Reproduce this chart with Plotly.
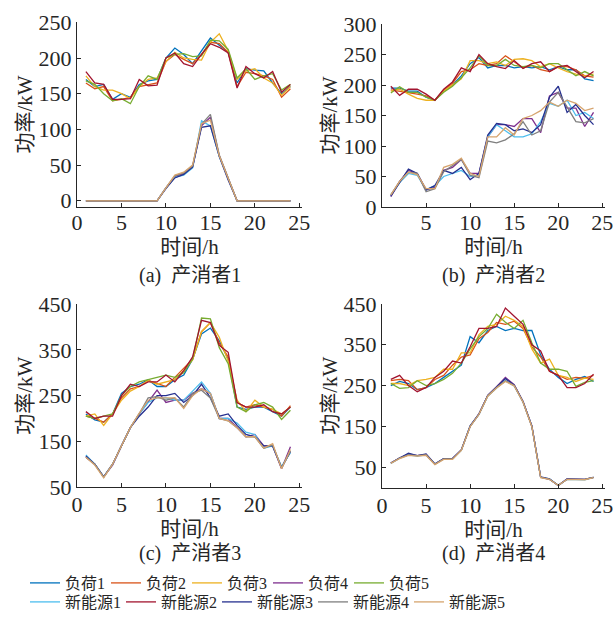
import plotly.graph_objects as go

hours = list(range(1, 25))

names = ["负荷1", "负荷2", "负荷3", "负荷4", "负荷5",
         "新能源1", "新能源2", "新能源3", "新能源4", "新能源5"]
colors = ["#0072BD", "#D95319", "#EDB120", "#7E2F8E", "#77AC30",
          "#4DBEEE", "#A2142F", "#26308F", "#7F7F7F", "#D6A46E"]

# ---- (a) 产消者1 ----
a_fh1 = [170, 160, 163, 142, 150, 145, 163, 168, 170, 200, 214, 205, 192, 210, 228, 218, 208, 165, 185, 183, 182, 165, 150, 160]
a_fh2 = [165, 157, 160, 140, 142, 145, 160, 163, 165, 195, 205, 198, 192, 205, 222, 220, 208, 160, 180, 178, 175, 170, 145, 157]
a_fh3 = [175, 160, 155, 155, 150, 143, 160, 170, 172, 195, 208, 200, 198, 197, 222, 234, 210, 170, 182, 185, 172, 165, 148, 160]
a_fh4 = [0, 0, 0, 0, 0, 0, 0, 0, 0, 18, 34, 38, 48, 105, 117, 63, 30, 0, 0, 0, 0, 0, 0, 0]
a_fh5 = [168, 163, 150, 140, 143, 136, 160, 175, 170, 200, 205, 206, 202, 203, 225, 224, 212, 172, 185, 170, 175, 178, 155, 163]
a_xn1 = [0, 0, 0, 0, 0, 0, 0, 0, 0, 18, 33, 36, 46, 112, 105, 62, 30, 0, 0, 0, 0, 0, 0, 0]
a_xn2 = [181, 165, 163, 142, 142, 143, 170, 161, 162, 200, 207, 192, 188, 205, 220, 215, 207, 158, 188, 178, 172, 181, 152, 163]
a_xn3 = [0, 0, 0, 0, 0, 0, 0, 0, 0, 17, 32, 37, 47, 103, 105, 62, 29, 0, 0, 0, 0, 0, 0, 0]
a_xn4 = [0, 0, 0, 0, 0, 0, 0, 0, 0, 18, 35, 39, 49, 107, 121, 64, 31, 0, 0, 0, 0, 0, 0, 0]
a_xn5 = [0, 0, 0, 0, 0, 0, 0, 0, 0, 18, 36, 40, 50, 108, 113, 63, 30, 0, 0, 0, 0, 0, 0, 0]

# ---- (b) 产消者2 ----
b_fh1 = [195, 195, 190, 190, 180, 175, 190, 200, 215, 235, 245, 228, 232, 232, 228, 230, 228, 230, 225, 230, 225, 225, 210, 207]
b_fh2 = [192, 190, 188, 185, 182, 175, 192, 203, 222, 225, 235, 232, 235, 248, 238, 228, 232, 225, 222, 230, 230, 225, 215, 213]
b_fh3 = [190, 193, 185, 178, 175, 175, 190, 200, 210, 240, 240, 235, 238, 232, 242, 243, 240, 230, 235, 228, 222, 218, 215, 218]
b_fh4 = [17, 42, 60, 55, 28, 32, 60, 65, 78, 55, 55, 115, 135, 135, 132, 145, 145, 122, 182, 188, 162, 162, 132, 155]
b_fh5 = [187, 197, 188, 188, 180, 175, 188, 198, 212, 228, 248, 232, 232, 242, 232, 230, 232, 228, 235, 235, 225, 215, 222, 215]
b_xn1 = [20, 40, 55, 52, 28, 35, 50, 55, 60, 50, 52, 115, 135, 125, 115, 115, 120, 140, 170, 165, 175, 150, 155, 145]
b_xn2 = [198, 183, 193, 193, 185, 175, 193, 205, 228, 222, 250, 235, 230, 227, 240, 227, 235, 238, 222, 230, 232, 222, 212, 222]
b_xn3 = [18, 40, 62, 55, 28, 35, 60, 55, 65, 45, 55, 118, 137, 135, 125, 128, 122, 135, 180, 198, 155, 168, 150, 135]
b_xn4 = [20, 42, 57, 55, 25, 30, 58, 68, 78, 52, 48, 108, 105, 110, 120, 140, 118, 125, 172, 188, 165, 140, 138, 145]
b_xn5 = [20, 42, 57, 53, 30, 30, 65, 70, 80, 55, 50, 115, 115, 130, 118, 145, 150, 158, 172, 165, 175, 170, 158, 162]

# ---- (c) 产消者3 ----
c_fh1 = [210, 197, 192, 210, 255, 270, 275, 285, 270, 270, 285, 295, 330, 385, 398, 370, 330, 225, 220, 225, 225, 215, 205, 225]
c_fh2 = [205, 200, 192, 210, 245, 265, 270, 283, 277, 270, 290, 310, 330, 390, 410, 365, 335, 235, 225, 230, 225, 220, 205, 228]
c_fh3 = [205, 210, 185, 210, 240, 260, 270, 283, 275, 280, 285, 305, 328, 390, 410, 378, 325, 240, 215, 240, 225, 220, 210, 225]
c_fh4 = [115, 100, 72, 98, 140, 180, 210, 235, 262, 235, 240, 240, 255, 265, 255, 200, 200, 180, 160, 165, 140, 140, 90, 138]
c_fh5 = [205, 200, 205, 210, 250, 270, 280, 285, 290, 295, 290, 300, 330, 420, 418, 355, 320, 225, 215, 230, 235, 225, 198, 218]
c_xn1 = [120, 100, 72, 100, 140, 180, 210, 235, 245, 245, 240, 240, 260, 280, 255, 200, 200, 190, 170, 165, 135, 140, 95, 125]
c_xn2 = [215, 200, 205, 205, 250, 275, 270, 280, 280, 295, 280, 305, 335, 415, 410, 360, 345, 235, 225, 225, 230, 215, 210, 225]
c_xn3 = [118, 100, 72, 100, 140, 180, 205, 225, 250, 250, 255, 235, 250, 275, 245, 205, 210, 185, 165, 160, 140, 140, 92, 128]
c_xn4 = [115, 100, 72, 100, 140, 180, 210, 245, 248, 240, 245, 225, 255, 262, 245, 200, 195, 180, 160, 160, 135, 142, 92, 128]
c_xn5 = [115, 98, 70, 100, 140, 180, 212, 240, 245, 245, 245, 222, 250, 265, 255, 200, 195, 180, 160, 160, 135, 145, 90, 132]

# ---- (d) 产消者4 ----
d_fh1 = [250, 260, 255, 240, 245, 255, 270, 285, 300, 370, 355, 385, 395, 385, 390, 385, 385, 325, 290, 270, 255, 265, 272, 260]
d_fh2 = [262, 265, 262, 240, 245, 265, 275, 300, 320, 325, 365, 380, 405, 400, 408, 390, 345, 320, 285, 275, 265, 270, 268, 275]
d_fh3 = [255, 255, 250, 262, 265, 270, 290, 290, 330, 330, 375, 395, 400, 420, 410, 395, 340, 305, 315, 275, 270, 260, 268, 265]
d_fh4 = [60, 73, 82, 78, 81, 57, 71, 71, 92, 150, 181, 226, 247, 270, 252, 211, 151, 25, 20, 5, 21, 21, 20, 25]
d_fh5 = [255, 243, 245, 262, 250, 255, 265, 280, 305, 340, 370, 390, 425, 405, 390, 410, 355, 305, 290, 290, 285, 248, 258, 262]
d_xn1 = [59, 72, 80, 77, 80, 57, 70, 70, 91, 150, 179, 224, 244, 262, 249, 209, 150, 25, 21, 5, 20, 20, 19, 25]
d_xn2 = [265, 275, 250, 235, 245, 270, 285, 310, 305, 345, 390, 390, 395, 440, 420, 400, 350, 335, 285, 275, 245, 245, 255, 278]
d_xn3 = [60, 73, 84, 78, 82, 58, 71, 71, 92, 151, 180, 226, 246, 267, 251, 211, 151, 26, 21, 5, 21, 21, 20, 25]
d_xn4 = [60, 72, 80, 78, 80, 57, 70, 70, 92, 150, 180, 225, 245, 262, 250, 210, 150, 25, 20, 6, 20, 20, 20, 25]
d_xn5 = [59, 71, 79, 77, 79, 56, 69, 69, 91, 149, 179, 224, 244, 260, 249, 209, 149, 24, 20, 5, 20, 20, 19, 24]

panel_a = [a_fh1, a_fh2, a_fh3, a_fh4, a_fh5, a_xn1, a_xn2, a_xn3, a_xn4, a_xn5]
panel_b = [b_fh1, b_fh2, b_fh3, b_fh4, b_fh5, b_xn1, b_xn2, b_xn3, b_xn4, b_xn5]
panel_c = [c_fh1, c_fh2, c_fh3, c_fh4, c_fh5, c_xn1, c_xn2, c_xn3, c_xn4, c_xn5]
panel_d = [d_fh1, d_fh2, d_fh3, d_fh4, d_fh5, d_xn1, d_xn2, d_xn3, d_xn4, d_xn5]

captions = ["(a)\u00a0\u00a0产消者1", "(b)\u00a0\u00a0产消者2", "(c)\u00a0\u00a0产消者3", "(d)\u00a0\u00a0产消者4"]
xticks_full = [0, 5, 10, 15, 20, 25]
xticks_b = [5, 10, 15, 20, 25]
yticks_a = [0, 50, 100, 150, 200, 250]
yticks_b = [0, 50, 100, 150, 200, 250, 300]
yticks_cd = [50, 150, 250, 350, 450]

W, H = 614, 618
FONT = "'Liberation Serif', 'Times New Roman', 'Noto Sans CJK SC', serif"
TXT = "#262626"

fig = go.Figure()
panels = [panel_a, panel_b, panel_c, panel_d]
axes = [("x", "y"), ("x2", "y2"), ("x3", "y3"), ("x4", "y4")]
for p, (xa, ya) in enumerate(axes):
    for i, series in enumerate(panels[p]):
        fig.add_trace(go.Scatter(
            x=hours, y=series, mode="lines", name=names[i],
            line=dict(color=colors[i], width=1.3),
            xaxis=xa, yaxis=ya,
            showlegend=(p == 0),
            legend=("legend" if i < 5 else "legend2"),
        ))

def px_x(a, b):
    return [a / W, b / W]

def px_y(top, bottom):
    return [1 - bottom / H, 1 - top / H]

axis_common = dict(
    showline=True, linecolor="#262626", linewidth=1, mirror=False,
    ticks="inside", ticklen=4, tickwidth=1, tickcolor="#262626",
    showgrid=False, zeroline=False, automargin=False,
    ticklabeloverflow="allow",
    tickfont=dict(family=FONT, size=22, color=TXT),
)
xtitle = dict(text="时间/h", font=dict(family=FONT, size=21, color=TXT), standoff=4)
ytitle = dict(text="功率/kW", font=dict(family=FONT, size=21, color=TXT), standoff=0)

fig.update_layout(
    width=W, height=H,
    margin=dict(l=0, r=0, t=0, b=0, autoexpand=False),
    paper_bgcolor="white", plot_bgcolor="white",
    font=dict(family=FONT, color=TXT),
    xaxis=dict(domain=px_x(77, 302), range=[0, 25.3], tickvals=xticks_full,
               anchor="y", title=xtitle, ticklabelstandoff=-4, **axis_common),
    yaxis=dict(domain=px_y(22.3, 206.5), range=[-8, 250], tickvals=yticks_a,
               anchor="x", title=ytitle, **axis_common),
    xaxis2=dict(domain=px_x(382, 605), range=[0, 25.3], tickvals=xticks_b,
                anchor="y2", title=xtitle, ticklabelstandoff=-4, **axis_common),
    yaxis2=dict(domain=px_y(24, 207), range=[0, 300], tickvals=yticks_b,
                anchor="x2", title=ytitle, **axis_common),
    xaxis3=dict(domain=px_x(77, 302), range=[0, 25.3], tickvals=xticks_full,
                anchor="y3", title=xtitle, ticklabelstandoff=-2, **axis_common),
    yaxis3=dict(domain=px_y(304.3, 487), range=[50, 450], tickvals=yticks_cd,
                anchor="x3", title=ytitle, **axis_common),
    xaxis4=dict(domain=px_x(382, 605), range=[0, 25.3], tickvals=xticks_full,
                anchor="y4", title=xtitle, ticklabelstandoff=-2, **axis_common),
    yaxis4=dict(domain=px_y(304, 487.5), range=[0, 450], tickvals=yticks_cd,
                anchor="x4", title=ytitle, **axis_common),
    legend=dict(orientation="h", x=25 / W, y=1 - 566 / H, xanchor="left", yanchor="top",
                font=dict(family=FONT, size=16, color=TXT), bgcolor="rgba(0,0,0,0)",
                tracegroupgap=0, itemwidth=30, entrywidth=36, entrywidthmode="pixels"),
    legend2=dict(orientation="h", x=25 / W, y=1 - 585 / H, xanchor="left", yanchor="top",
                 font=dict(family=FONT, size=16, color=TXT), bgcolor="rgba(0,0,0,0)",
                 tracegroupgap=0, itemwidth=30, entrywidth=51, entrywidthmode="pixels"),
)

cap_pos = [("x domain", 1 - 275 / H), ("x2 domain", 1 - 275 / H),
           ("x3 domain", 1 - 553 / H), ("x4 domain", 1 - 553 / H)]
for cap, (xr, yy) in zip(captions, cap_pos):
    fig.add_annotation(text=cap, xref=xr, x=0.5, yref="paper", y=yy,
                       showarrow=False, xanchor="center", yanchor="middle",
                       font=dict(family=FONT, size=20, color=TXT))

fig.write_html("out.html")
